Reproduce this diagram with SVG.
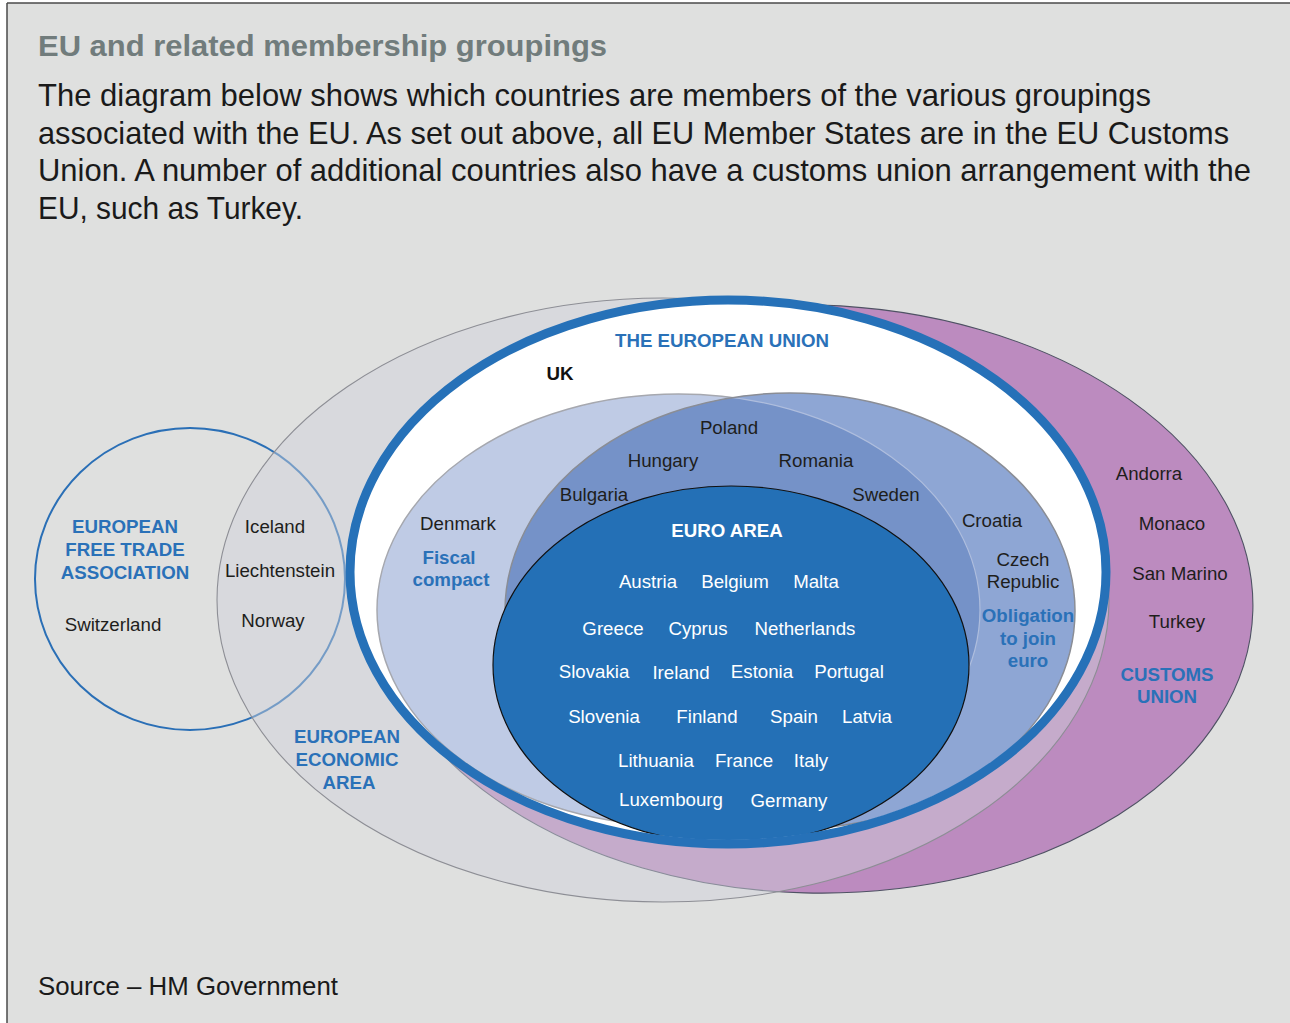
<svg xmlns="http://www.w3.org/2000/svg" width="1290" height="1023" viewBox="0 0 1290 1023">
<style>
  text{font-family:"Liberation Sans",Arial,Helvetica,sans-serif}
  .lbl{font-size:18.7px;fill:#1e1e1c;text-anchor:middle}
  .b{font-weight:bold}
  .blue{fill:#2a71b8;font-weight:bold}
  .wh{fill:#ffffff}
  .body{font-size:30.5px;fill:#1a1a1a}
</style>
<defs>
  <clipPath id="euClip"><ellipse cx="728" cy="572" rx="374" ry="268"/></clipPath>
  <clipPath id="fiscalClip"><ellipse cx="678.5" cy="610" rx="301.5" ry="216"/></clipPath>
  <clipPath id="oblClip"><ellipse cx="790" cy="611" rx="285" ry="218"/></clipPath>
</defs>

<rect x="0" y="0" width="1290" height="1023" fill="#ffffff"/>
<rect x="7" y="3" width="1283" height="1020" fill="#dfe0df"/>
<line x1="7" y1="3" x2="1290" y2="3" stroke="#4a4a4a" stroke-width="1.5"/>
<line x1="7" y1="3" x2="7" y2="1023" stroke="#4a4a4a" stroke-width="1.5"/>

<g id="header">
  <text x="38" y="56" textLength="569" lengthAdjust="spacingAndGlyphs" style="font-size:30px;font-weight:bold;fill:#717c7c">EU and related membership groupings</text>
  <text class="body" x="38" y="106" textLength="1113" lengthAdjust="spacingAndGlyphs">The diagram below shows which countries are members of the various groupings</text>
  <text class="body" x="38" y="144" textLength="1191" lengthAdjust="spacingAndGlyphs">associated with the EU. As set out above, all EU Member States are in the EU Customs</text>
  <text class="body" x="38" y="181" textLength="1213" lengthAdjust="spacingAndGlyphs">Union. A number of additional countries also have a customs union arrangement with the</text>
  <text class="body" x="38" y="219" textLength="265" lengthAdjust="spacingAndGlyphs">EU, such as Turkey.</text>
</g>

<g id="efta">
  <ellipse cx="190" cy="579" rx="155" ry="151" fill="none" stroke="#2a6fb6" stroke-width="2"/>
</g>

<g id="customs-union">
  <ellipse cx="812" cy="599" rx="441" ry="294" transform="rotate(1.5 812 599)" fill="#bc8bbf" stroke="#4f5264" stroke-width="1.1"/>
</g>

<g id="eea">
  <ellipse cx="663" cy="600" rx="446" ry="302" fill="rgb(208,209,218)" fill-opacity="0.46" stroke="#8d8e95" stroke-width="1.1"/>
</g>

<g id="eu">
  <ellipse cx="728" cy="572" rx="378" ry="272" fill="#ffffff"/>
  <g clip-path="url(#euClip)">
    <g id="fiscal-compact">
      <ellipse cx="678.5" cy="610" rx="301.5" ry="216" fill="#bfcbe5" stroke="#a6a8af" stroke-width="1.5"/>
    </g>
    <g id="obligation-to-join-euro">
      <ellipse cx="790" cy="611" rx="285" ry="218" fill="#8ea6d4"/>
      <g clip-path="url(#fiscalClip)">
        <ellipse cx="790" cy="611" rx="285" ry="218" fill="#7592c8"/>
      </g>
      <g clip-path="url(#oblClip)">
        <ellipse cx="678.5" cy="610" rx="301.5" ry="216" fill="none" stroke="#aebddd" stroke-width="1.2"/>
      </g>
      <ellipse cx="790" cy="611" rx="285" ry="218" fill="none" stroke="#8a8d95" stroke-width="1.5"/>
    </g>
    <g id="euro-area">
      <ellipse cx="731" cy="665" rx="238" ry="179" fill="#2470b6" stroke="#111111" stroke-width="1.2"/>
    </g>
  </g>
  <ellipse cx="728" cy="572" rx="378" ry="272" fill="none" stroke="#2671b8" stroke-width="9"/>
</g>

<g id="connectors"></g>

<g id="labels">
  <text class="lbl blue" x="722" y="347">THE EUROPEAN UNION</text>
  <text class="lbl b" x="560" y="380" style="fill:#111">UK</text>

  <text class="lbl" x="729" y="434">Poland</text>
  <text class="lbl" x="663" y="467">Hungary</text>
  <text class="lbl" x="816" y="467">Romania</text>
  <text class="lbl" x="594" y="501">Bulgaria</text>
  <text class="lbl" x="886" y="501">Sweden</text>

  <text class="lbl" x="458" y="530">Denmark</text>
  <text class="lbl blue" x="449" y="564">Fiscal</text>
  <text class="lbl blue" x="451" y="586">compact</text>

  <text class="lbl" x="992" y="527">Croatia</text>
  <text class="lbl" x="1023" y="566">Czech</text>
  <text class="lbl" x="1023" y="588">Republic</text>
  <text class="lbl blue" x="1028" y="622">Obligation</text>
  <text class="lbl blue" x="1028" y="645">to join</text>
  <text class="lbl blue" x="1028" y="667">euro</text>

  <text class="lbl b wh" x="727" y="537">EURO AREA</text>
  <text class="lbl wh" x="648" y="588">Austria</text>
  <text class="lbl wh" x="735" y="588">Belgium</text>
  <text class="lbl wh" x="816" y="588">Malta</text>
  <text class="lbl wh" x="613" y="635">Greece</text>
  <text class="lbl wh" x="698" y="635">Cyprus</text>
  <text class="lbl wh" x="805" y="635">Netherlands</text>
  <text class="lbl wh" x="594" y="678">Slovakia</text>
  <text class="lbl wh" x="681" y="679">Ireland</text>
  <text class="lbl wh" x="762" y="678">Estonia</text>
  <text class="lbl wh" x="849" y="678">Portugal</text>
  <text class="lbl wh" x="604" y="723">Slovenia</text>
  <text class="lbl wh" x="707" y="723">Finland</text>
  <text class="lbl wh" x="794" y="723">Spain</text>
  <text class="lbl wh" x="867" y="723">Latvia</text>
  <text class="lbl wh" x="656" y="767">Lithuania</text>
  <text class="lbl wh" x="744" y="767">France</text>
  <text class="lbl wh" x="811" y="767">Italy</text>
  <text class="lbl wh" x="671" y="806">Luxembourg</text>
  <text class="lbl wh" x="789" y="807">Germany</text>

  <text class="lbl" x="1149" y="480">Andorra</text>
  <text class="lbl" x="1172" y="530">Monaco</text>
  <text class="lbl" x="1180" y="580">San Marino</text>
  <text class="lbl" x="1177" y="628">Turkey</text>
  <text class="lbl blue" x="1167" y="681">CUSTOMS</text>
  <text class="lbl blue" x="1167" y="703">UNION</text>

  <text class="lbl blue" x="347" y="743">EUROPEAN</text>
  <text class="lbl blue" x="347" y="766">ECONOMIC</text>
  <text class="lbl blue" x="349" y="789">AREA</text>

  <text class="lbl blue" x="125" y="533">EUROPEAN</text>
  <text class="lbl blue" x="125" y="556">FREE TRADE</text>
  <text class="lbl blue" x="125" y="579">ASSOCIATION</text>
  <text class="lbl" x="113" y="631">Switzerland</text>
  <text class="lbl" x="275" y="533">Iceland</text>
  <text class="lbl" x="280" y="577">Liechtenstein</text>
  <text class="lbl" x="273" y="627">Norway</text>
</g>

<g id="footer">
  <text x="38" y="995" textLength="300" lengthAdjust="spacingAndGlyphs" style="font-size:26.5px;fill:#1a1a1a">Source – HM Government</text>
</g>
</svg>
